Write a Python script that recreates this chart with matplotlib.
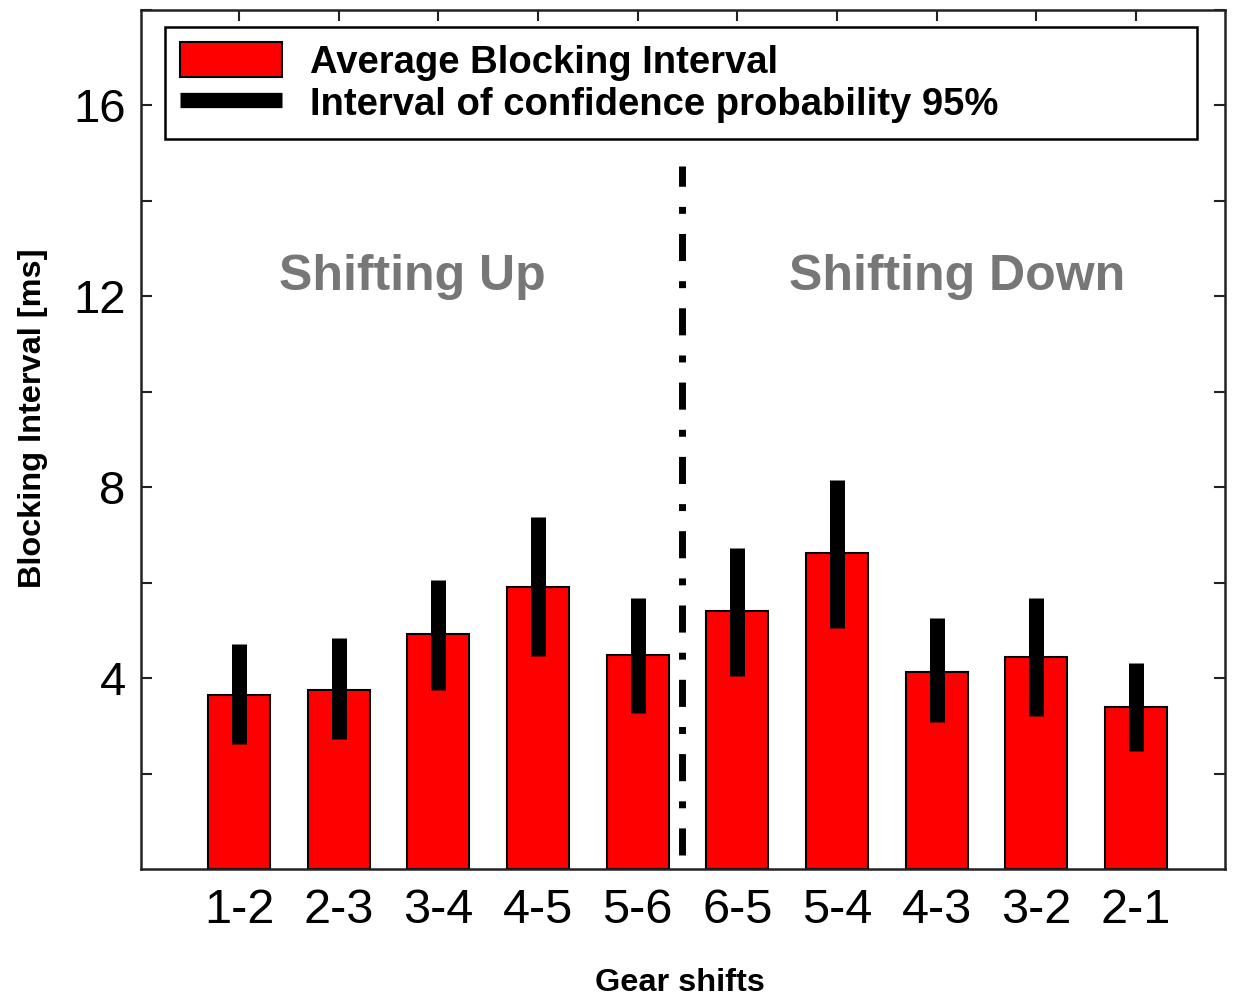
import matplotlib
matplotlib.use("Agg")
import matplotlib.pyplot as plt
from matplotlib.patches import Patch
from matplotlib.lines import Line2D
import numpy as np

# data
shifts = ["1-2", "2-3", "3-4", "4-5", "5-6", "6-5", "5-4", "4-3", "3-2", "2-1"]
avg_interval = [3.64, 3.75, 4.92, 5.91, 4.48, 5.40, 6.62, 4.13, 4.44, 3.39]
ci_low = [2.62, 2.72, 3.75, 4.46, 3.27, 4.04, 5.05, 3.08, 3.20, 2.47]
ci_high = [4.71, 4.84, 6.05, 7.37, 5.68, 6.72, 8.15, 5.26, 5.68, 4.31]
yticks = [2, 4, 6, 8, 10, 12, 14, 16, 18]
ytick_labels = ["", "4", "", "8", "", "12", "", "16", ""]

x = np.arange(1, len(shifts) + 1)
avg = np.array(avg_interval)
err = [avg - np.array(ci_low), np.array(ci_high) - avg]

fig = plt.figure(figsize=(12.39, 9.99), dpi=100)
ax = fig.add_axes([141 / 1239, 1 - 869 / 999, 1084 / 1239, 859 / 999])

ax.bar(x, avg, width=0.62, color="#ff0000", edgecolor="black", linewidth=1.5, zorder=2)
ax.errorbar(x, avg, yerr=err, fmt="none", ecolor="black", elinewidth=10.8,
            capsize=0, zorder=3)

# separator between up and down shifts
ax.plot([5.44, 5.44], [0.3, 14.74], color="black", linewidth=5,
        dashes=(3.9, 2.9, 1.0, 2.9), dash_capstyle="butt", zorder=3)

bold = dict(fontweight="bold", family="Liberation Sans")
ax.text(2.74, 12.13, "Shifting Up", ha="center", va="baseline", fontsize=36,
        color="#777777", **bold)
ax.text(8.21, 12.13, "Shifting Down", ha="center", va="baseline", fontsize=36,
        color="#777777", **bold)

ax.set_xlim(0.017, 10.893)
ax.set_ylim(0, 18)
ax.set_xticks(x)
ax.set_xticklabels(shifts, fontsize=35, family="Liberation Sans")
ax.set_yticks(yticks)
ax.set_yticklabels(ytick_labels, fontsize=34, family="Liberation Sans")
ax.tick_params(axis="both", direction="in", length=8, width=1.5, color="#222222")
ax.tick_params(axis="x", bottom=False, top=True, pad=14)
ax.tick_params(axis="y", left=True, right=True, pad=11)
for s in ax.spines.values():
    s.set_linewidth(1.8)
    s.set_color("#222222")

handles = [Patch(facecolor="#ff0000", edgecolor="black", linewidth=1.5),
           Line2D([], [], color="black", linewidth=11, solid_capstyle="butt")]
labels = ["Average Blocking Interval", "Interval of confidence probability 95%"]
leg = ax.legend(handles, labels, loc="upper left",
                bbox_to_anchor=(0.022, 0.852, 0.952, 0.128), mode="expand",
                prop={"family": "Liberation Sans", "weight": "bold", "size": 27.5},
                handlelength=2.67, handleheight=1.0, handletextpad=0.73,
                labelspacing=0.12, borderpad=0.4, borderaxespad=0,
                fancybox=False, framealpha=1, edgecolor="black")
leg.get_frame().set_linewidth(1.8)

fig.text(33 / 1239, 1 - 418 / 999, "Blocking Interval [ms]", rotation=90,
         ha="center", va="center", fontsize=23.4, **bold)
fig.text(680 / 1239, 1 - 991 / 999, "Gear shifts", ha="center", va="baseline",
         fontsize=23.4, **bold)

fig.savefig("out.png", dpi=100)
